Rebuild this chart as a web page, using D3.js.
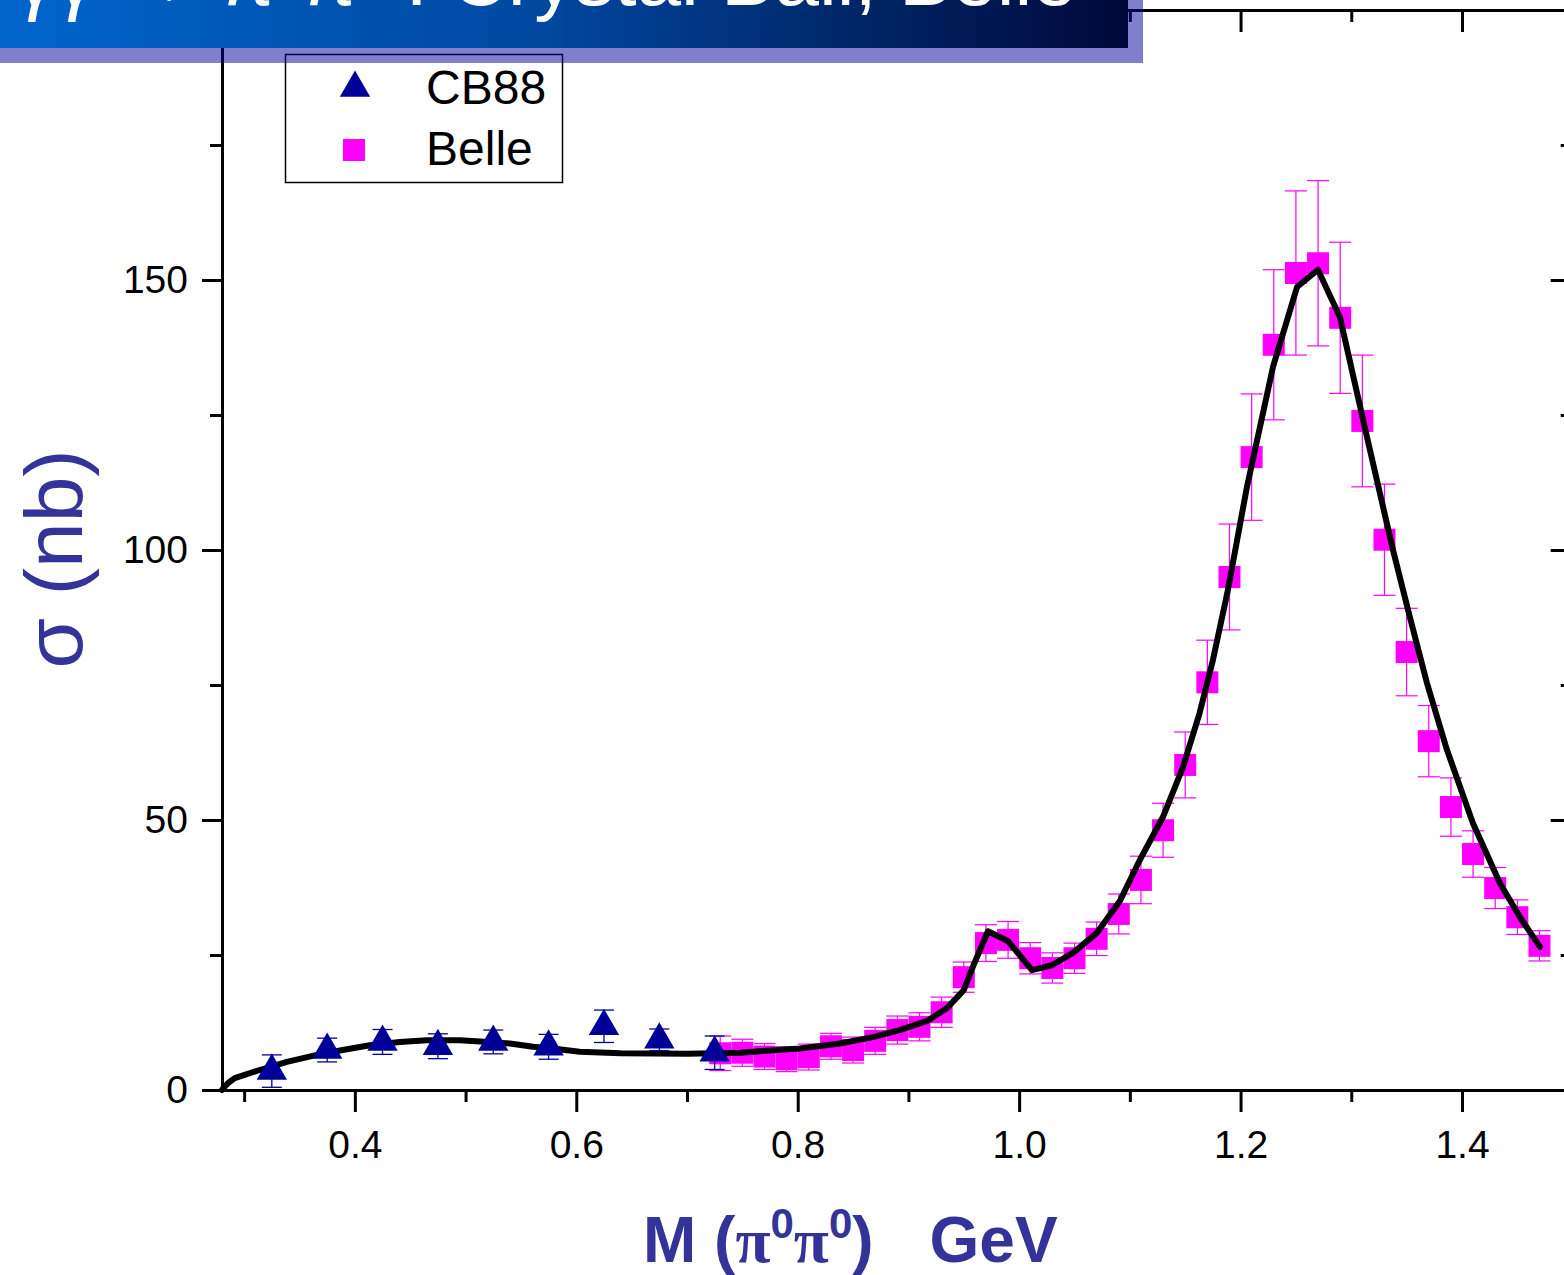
<!DOCTYPE html>
<html><head><meta charset="utf-8">
<script src="https://cdn.jsdelivr.net/npm/d3@7"></script>
<style>html,body{margin:0;padding:0;background:#fff;overflow:hidden}</style>
</head><body><svg id="c" width="1564" height="1275"></svg>
<script>
// ---------- data ----------
const cbMass   = [0.325, 0.375, 0.425, 0.475, 0.525, 0.575, 0.625, 0.675, 0.725];
const cbSigma  = [3.5, 7.4, 8.9, 8.1, 8.9, 8.0, 11.8, 9.3, 6.9];
const cbError  = [3.0, 2.2, 2.3, 2.3, 2.2, 2.3, 3.0, 2.0, 3.1];

const belleMass  = [0.73, 0.75, 0.77, 0.79, 0.81, 0.83, 0.85, 0.87, 0.89, 0.91,
                    0.93, 0.95, 0.97, 0.99, 1.01, 1.03, 1.05, 1.07, 1.09, 1.11,
                    1.13, 1.15, 1.17, 1.19, 1.21, 1.23, 1.25, 1.27, 1.29, 1.31,
                    1.33, 1.35, 1.37, 1.39, 1.41, 1.43, 1.45, 1.47];
const belleSigma = [6.8, 6.9, 6.2, 5.7, 6.1, 8.1, 7.4, 9.1, 11.1, 11.7,
                    14.4, 20.9, 27.2, 27.8, 24.4, 22.6, 24.4, 28.0, 32.6, 38.9,
                    48.1, 60.2, 75.5, 95.0, 117.2, 138.0, 151.3, 153.1, 143.0, 123.9,
                    101.9, 81.1, 64.6, 52.4, 43.7, 37.4, 32.0, 26.7];
const belleError = [3.2, 2.5, 2.4, 2.3, 2.4, 2.4, 2.4, 2.5, 2.6, 2.6,
                    2.8, 2.8, 3.4, 3.4, 2.9, 2.8, 2.8, 3.1, 3.7, 4.4,
                    5.0, 6.1, 7.8, 9.8, 11.7, 13.9, 15.2, 15.3, 14.0, 12.2,
                    10.3, 8.1, 6.6, 5.4, 4.3, 3.8, 3.2, 2.8];

const fitMass  = [0.280, 0.281, 0.2855, 0.2915, 0.314, 0.3386, 0.3657, 0.389, 0.4136, 0.4407,
                  0.465, 0.495, 0.513, 0.540, 0.561, 0.5825, 0.603, 0.640, 0.700, 0.748,
                  0.7595, 0.802, 0.838, 0.868, 0.892, 0.917, 0.935, 0.950, 0.9582, 0.9718,
                  0.9898, 1.0116, 1.0296, 1.0486, 1.0703, 1.091, 1.109, 1.130, 1.148, 1.163,
                  1.175, 1.188, 1.2058, 1.2293, 1.251, 1.2699, 1.2898, 1.3142, 1.3377, 1.3529,
                  1.3683, 1.3864, 1.4099, 1.4343, 1.4524, 1.4705];
const fitSigma = [0.0, 0.3, 1.3, 2.2, 3.7, 5.2, 6.5, 7.4, 8.3, 8.9,
                  9.2, 9.2, 9.0, 8.6, 8.0, 7.6, 7.1, 6.8, 6.7, 6.9,
                  7.1, 7.7, 8.6, 9.8, 11.1, 12.8, 15.2, 18.5, 22.8, 29.4,
                  27.6, 22.2, 23.1, 25.4, 29.1, 35.0, 42.6, 50.6, 59.8, 69.8,
                  79.6, 92.0, 111.7, 133.9, 148.7, 151.9, 143.1, 120.9, 100.0, 87.6,
                  75.4, 63.0, 49.4, 38.3, 32.0, 26.5];

const xMajorTicks = [0.4, 0.6, 0.8, 1.0, 1.2, 1.4];
const xMinorTicks = [0.3, 0.5, 0.7, 0.9, 1.1, 1.3, 1.5];
const yMajorTicks = [0, 50, 100, 150, 200];
const yMinorTicks = [25, 75, 125, 175];
const legendLabels = ["CB88", "Belle"];

// ---------- setup ----------
const svg = d3.select("#c");
const x = d3.scaleLinear().domain([0.28, 1.5]).range([222, 1572.7]);
const y = d3.scaleLinear().domain([0, 200]).range([1090, 10]);
const FONT = "'Liberation Sans', Arial, sans-serif";
const NAVY = "#000099", MAG = "#ff00ff", TITLE = "#333399";

function styleAxis(g, w) {
  g.selectAll(".domain").attr("stroke", "#000").attr("stroke-width", w);
  g.selectAll(".tick line").attr("stroke", "#000").attr("stroke-width", 3);
  g.selectAll(".tick text").attr("fill", "#000").attr("font-family", FONT).attr("font-size", 39);
}

// bottom axis
svg.append("g").attr("transform", "translate(0,1090)")
  .call(d3.axisBottom(x).tickValues(xMinorTicks).tickSize(12).tickSizeOuter(0).tickFormat(""))
  .call(g => styleAxis(g, 3));
svg.append("g").attr("transform", "translate(0,1090)")
  .call(d3.axisBottom(x).tickValues(xMajorTicks).tickSize(22).tickSizeOuter(0).tickPadding(18).tickFormat(d3.format(".1f")))
  .call(g => styleAxis(g, 3));
// top axis (inward ticks)
svg.append("g").attr("transform", "translate(0,10)")
  .call(d3.axisTop(x).tickValues(xMinorTicks).tickSize(-12).tickSizeOuter(0).tickFormat(""))
  .call(g => styleAxis(g, 3));
svg.append("g").attr("transform", "translate(0,10)")
  .call(d3.axisTop(x).tickValues(xMajorTicks).tickSize(-22).tickSizeOuter(0).tickFormat(""))
  .call(g => styleAxis(g, 3));
// left axis
svg.append("g").attr("transform", "translate(222,0)")
  .call(d3.axisLeft(y).tickValues(yMinorTicks).tickSize(12).tickSizeOuter(0).tickFormat(""))
  .call(g => styleAxis(g, 3));
svg.append("g").attr("transform", "translate(222,0)")
  .call(d3.axisLeft(y).tickValues(yMajorTicks).tickSize(20).tickSizeOuter(0).tickPadding(14).tickFormat(d3.format("d")))
  .call(g => styleAxis(g, 3));
// right axis (inward ticks)
svg.append("g").attr("transform", "translate(1572.7,0)")
  .call(d3.axisRight(y).tickValues(yMinorTicks).tickSize(-12).tickSizeOuter(0).tickFormat(""))
  .call(g => styleAxis(g, 3));
svg.append("g").attr("transform", "translate(1572.7,0)")
  .call(d3.axisRight(y).tickValues(yMajorTicks).tickSize(-22).tickSizeOuter(0).tickFormat(""))
  .call(g => styleAxis(g, 3));

// ---------- Belle ----------
const belle = belleMass.map((m, i) => ({m, s: belleSigma[i], e: belleError[i]}));
const cb = cbMass.map((m, i) => ({m, s: cbSigma[i], e: cbError[i]}));

const eb = svg.append("g").attr("stroke", MAG).attr("stroke-width", 1.2).attr("fill", "none");
belle.forEach(d => {
  const cx = x(d.m), capW = 11;
  eb.append("line").attr("x1", cx).attr("x2", cx).attr("y1", y(d.s - d.e)).attr("y2", y(d.s + d.e));
  eb.append("line").attr("x1", cx - capW).attr("x2", cx + capW).attr("y1", y(d.s + d.e)).attr("y2", y(d.s + d.e));
  eb.append("line").attr("x1", cx - capW).attr("x2", cx + capW).attr("y1", y(d.s - d.e)).attr("y2", y(d.s - d.e));
});
const sq = 22;
svg.append("g").selectAll("rect").data(belle).join("rect")
  .attr("x", d => x(d.m) - sq / 2).attr("y", d => y(d.s) - sq / 2)
  .attr("width", sq).attr("height", sq).attr("fill", MAG);

// ---------- fit curve ----------
const fit = fitMass.map((m, i) => [m, fitSigma[i]]);
svg.append("path").datum(fit)
  .attr("d", d3.line().x(d => x(d[0])).y(d => y(d[1])).curve(d3.curveLinear))
  .attr("fill", "none").attr("stroke", "#000").attr("stroke-width", 6)
  .attr("stroke-linejoin", "round").attr("stroke-linecap", "round");

// ---------- CB88 ----------
const tri = d3.symbol().type(d3.symbolTriangle).size(400);
const cbErr = svg.append("g").attr("stroke", NAVY).attr("stroke-width", 1.3);
cb.forEach(d => {
  const cx = x(d.m), capW = 10;
  cbErr.append("line").attr("x1", cx).attr("x2", cx).attr("y1", y(d.s - d.e)).attr("y2", y(d.s + d.e));
  cbErr.append("line").attr("x1", cx - capW).attr("x2", cx + capW).attr("y1", y(d.s + d.e)).attr("y2", y(d.s + d.e));
  cbErr.append("line").attr("x1", cx - capW).attr("x2", cx + capW).attr("y1", y(d.s - d.e)).attr("y2", y(d.s - d.e));
});
svg.append("g").selectAll("path").data(cb).join("path")
  .attr("d", tri).attr("fill", NAVY)
  .attr("transform", d => `translate(${x(d.m)},${y(d.s)})`);

// ---------- legend ----------
const lg = svg.append("g");
lg.append("rect").attr("x", 285.5).attr("y", 54.5).attr("width", 277).attr("height", 128)
  .attr("fill", "#fff").attr("stroke", "#000").attr("stroke-width", 1.5);
lg.append("path").attr("d", tri).attr("fill", NAVY).attr("transform", "translate(355,88)");
lg.append("rect").attr("x", 343).attr("y", 139).attr("width", 22).attr("height", 22).attr("fill", MAG);
lg.selectAll("text").data(legendLabels).join("text")
  .attr("x", 426).attr("y", (d, i) => 104 + i * 61)
  .attr("font-family", FONT).attr("font-size", 48).attr("fill", "#000").text(d => d);

// ---------- banner ----------
const defs = svg.append("defs");
const grad = defs.append("linearGradient").attr("id", "bg").attr("x1", "0%").attr("x2", "100%");
grad.append("stop").attr("offset", "0%").attr("stop-color", "#0068d0");
grad.append("stop").attr("offset", "50%").attr("stop-color", "#0048a0");
grad.append("stop").attr("offset", "100%").attr("stop-color", "#000838");
svg.append("rect").attr("x", -50).attr("y", -50).attr("width", 1193).attr("height", 113)
  .attr("fill", "#000099").attr("fill-opacity", 0.5);
svg.append("rect").attr("x", -50).attr("y", -50).attr("width", 1178).attr("height", 98)
  .attr("fill", "url(#bg)");
const bt = svg.append("text").attr("x", 15).attr("y", 5)
  .attr("font-family", FONT).attr("font-size", 80).attr("fill", "#fff");
bt.append("tspan").text("γγ → π");
bt.append("tspan").attr("dy", -30).attr("font-size", 48).text("0");
bt.append("tspan").attr("dy", 30).text("π");
bt.append("tspan").attr("dy", -30).attr("font-size", 48).text("0");
bt.append("tspan").attr("dy", 30).text(" : Crystal Ball, Belle");

// ---------- axis titles ----------
svg.append("text").attr("transform", "translate(82,559) rotate(-90)")
  .attr("text-anchor", "middle").attr("font-family", FONT).attr("font-size", 82)
  .attr("fill", TITLE).text("σ (nb)");

const xt = svg.append("text").attr("x", 643).attr("y", 1262)
  .attr("font-family", FONT).attr("font-size", 64).attr("font-weight", "bold").attr("fill", TITLE);
const SERIF = "'Liberation Serif', 'Times New Roman', serif";
xt.append("tspan").text("M (");
xt.append("tspan").attr("font-family", SERIF).text("π");
xt.append("tspan").attr("dy", -24).attr("font-size", 42).text("0");
xt.append("tspan").attr("dy", 24).attr("font-family", SERIF).text("π");
xt.append("tspan").attr("dy", -24).attr("font-size", 42).text("0");
xt.append("tspan").attr("dy", 24).text(")");
xt.append("tspan").attr("dx", 56).text("GeV");
</script></body></html>
